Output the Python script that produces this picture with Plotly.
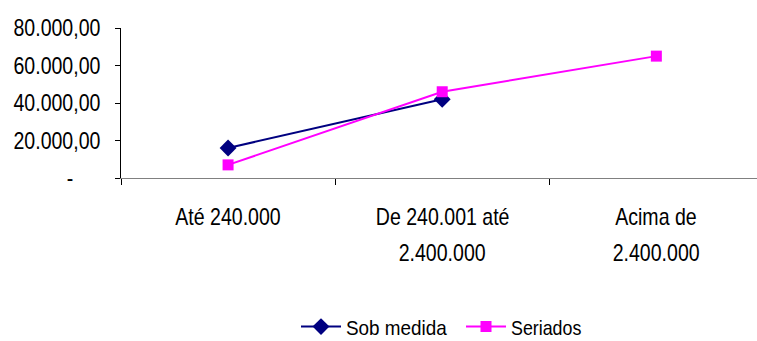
import plotly.graph_objects as go

# Faixas de faturamento (rótulo em duas linhas)
categorias = ["Até 240.000", "De 240.001 até 2.400.000", "Acima de 2.400.000"]
rotulo_linha1 = ["Até 240.000", "De 240.001 até", "Acima de"]
rotulo_linha2 = ["", "2.400.000", "2.400.000"]

sob_medida = [16000, 42000, None]
seriados = [7000, 46000, 65000]

y_ticks = [0, 20000, 40000, 60000, 80000]
y_tick_text = ["-\u00a0\u00a0\u00a0\u00a0\u00a0", "20.000,00", "40.000,00", "60.000,00", "80.000,00"]

FONT = "Liberation Sans, Arial, sans-serif"
FS = 23
FS_LEG = 21
W, H = 757, 341
ML, MT, MB = 121, 28, 163

fig = go.Figure()
fig.add_trace(go.Scatter(
    x=categorias, y=sob_medida, name="Sob medida", mode="lines+markers",
    line=dict(color="#000080", width=2),
    marker=dict(symbol="diamond", size=13, color="#000080"),
    legend="legend",
))
fig.add_trace(go.Scatter(
    x=categorias, y=seriados, name="Seriados", mode="lines+markers",
    line=dict(color="#FF00FF", width=2),
    marker=dict(symbol="square", size=11, color="#FF00FF"),
    legend="legend2",
))

for cat, l1, l2 in zip(categorias, rotulo_linha1, rotulo_linha2):
    fig.add_annotation(x=cat, xref="x", y=-0.26, yref="paper", text=l1,
                       showarrow=False, yanchor="middle", font=dict(size=FS, color="black", family=FONT))
    if l2:
        fig.add_annotation(x=cat, xref="x", y=-0.50, yref="paper", text=l2,
                           showarrow=False, yanchor="middle", font=dict(size=FS, color="black", family=FONT))

legend_style = dict(orientation="h", xanchor="left", y=-0.993, yanchor="middle",
                    font=dict(size=FS_LEG), itemwidth=40, bgcolor="rgba(0,0,0,0)")

fig.update_layout(
    width=W, height=H,
    margin=dict(l=ML, r=0, t=MT, b=MB, autoexpand=False),
    paper_bgcolor="white", plot_bgcolor="white",
    font=dict(family=FONT, size=FS, color="black"),
    showlegend=True,
    legend=dict(x=(296 - ML) / (W - ML), **legend_style),
    legend2=dict(x=(461 - ML) / (W - ML), **legend_style),
    xaxis=dict(
        type="category", range=[-0.5, 2.47], tickson="boundaries", automargin=False,
        showticklabels=False, ticks="outside", ticklen=6, tickcolor="black",
        showline=True, linecolor="#808080", linewidth=1, showgrid=False, zeroline=False,
    ),
    yaxis=dict(
        range=[0, 80000], tickvals=y_ticks, ticktext=y_tick_text, automargin=False,
        ticks="outside", ticklen=5, tickcolor="black", ticklabelstandoff=10,
        showline=True, linecolor="black", linewidth=1, showgrid=False, zeroline=False,
    ),
)

# Narrow (condensed) lettering: squeeze every text element horizontally about its anchor
condense = """
var gd = document.getElementById('{plot_id}');
gd.querySelectorAll('text').forEach(function(t){
  if(!t.textContent.trim()) return;
  var s = t.classList.contains('legendtext') ? 0.9 : 0.85;
  var b = t.getBBox();
  var a = t.getAttribute('text-anchor') || window.getComputedStyle(t).textAnchor || 'start';
  var ax = a === 'end' ? b.x + b.width : (a === 'middle' ? b.x + b.width / 2 : b.x);
  var tr = t.getAttribute('transform') || '';
  t.setAttribute('transform', tr + ' translate(' + ax + ',0) scale(' + s + ',1) translate(' + (-ax) + ',0)');
});
"""

fig.write_html("out.html", post_script=condense)
